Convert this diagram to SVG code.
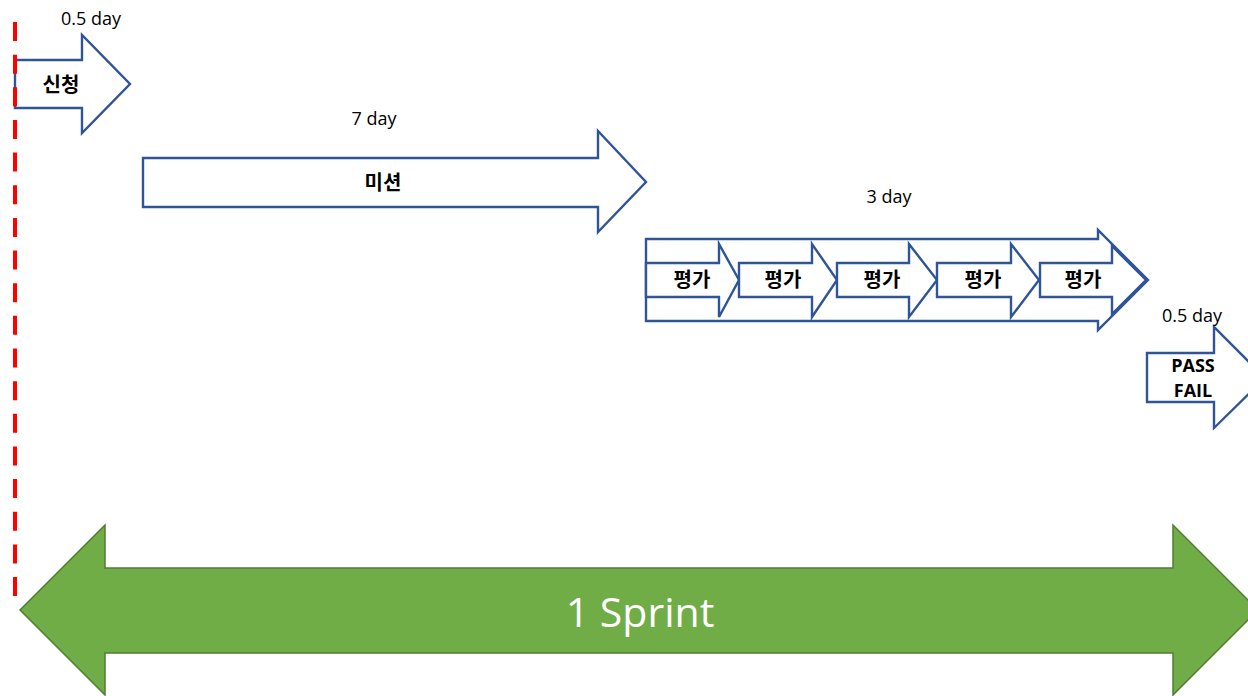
<svg xmlns="http://www.w3.org/2000/svg" width="1248" height="696" viewBox="0 0 1248 696">
<style>
.blk{fill:#ffffff;stroke:#2F5597;stroke-width:2.4;stroke-linejoin:miter}
.kr{font-family:"Noto Sans CJK KR","Noto Sans",sans-serif;font-weight:bold;font-size:20px;fill:#000;text-anchor:middle}
.lb{font-family:"Open Sans","Liberation Sans",sans-serif;font-size:18px;fill:#000;text-anchor:middle}
.bd{font-family:"Open Sans","Liberation Sans",sans-serif;font-weight:bold;font-size:18px;fill:#000;text-anchor:middle}
</style>
<rect x="0" y="0" width="1248" height="696" fill="#ffffff"/>
<g id="sprint">
<polygon points="20,610 105,525 105,568 1173,568 1173,525 1258,610 1173,695 1173,653 105,653 105,695" fill="#70AD47" stroke="#507E32" stroke-width="1.5"/>
<text x="640" y="627" font-family="'Open Sans','Liberation Sans',sans-serif" font-size="41" fill="#ffffff" text-anchor="middle">1 Sprint</text>
</g>
<g id="apply">
<polygon class="blk" points="15,60 82,60 82,35 130,84 82,133 82,108 15,108"/>
<text class="kr" x="61" y="92">신청</text>
<text class="lb" x="91" y="25">0.5 day</text>
</g>
<g id="mission">
<polygon class="blk" points="143,158 598,158 598,131 646,182 598,232 598,207 143,207"/>
<text class="kr" x="383" y="190">미션</text>
<text class="lb" x="374" y="125">7 day</text>
</g>
<g id="evaluation">
<polygon class="blk" points="646,239 1098,239 1098,230 1148,280 1098,330 1098,321 646,321"/>
<text class="lb" x="889" y="203">3 day</text>
</g>
<g id="eval1">
<polygon class="blk" points="646,263 719,263 719,244 739,280 719,317 719,297 646,297"/>
<text class="kr" x="692" y="287">평가</text>
</g>
<g id="eval2">
<polygon class="blk" points="739,263 812,263 812,244 837,280 812,317 812,297 739,297"/>
<text class="kr" x="783" y="287">평가</text>
</g>
<g id="eval3">
<polygon class="blk" points="837,263 909,263 909,244 937,280 909,317 909,297 837,297"/>
<text class="kr" x="882" y="287">평가</text>
</g>
<g id="eval4">
<polygon class="blk" points="937,263 1011,263 1011,244 1039,280 1011,317 1011,297 937,297"/>
<text class="kr" x="983" y="287">평가</text>
</g>
<g id="eval5">
<polygon class="blk" points="1040,263 1112,263 1112,246 1146,280 1112,314 1112,297 1040,297"/>
<text class="kr" x="1083" y="287">평가</text>
</g>
<g id="result">
<polygon class="blk" points="1147,353 1214,353 1214,327 1265,378 1214,428 1214,402 1147,402"/>
<text class="bd" x="1193" y="372">PASS</text>
<text class="bd" x="1193" y="397">FAIL</text>
<text class="lb" x="1192" y="322">0.5 day</text>
</g>
<g id="connectors">
<line x1="15" y1="22" x2="15" y2="596" stroke="#FF0000" stroke-width="4" stroke-dasharray="19 13.65"/>
</g>
</svg>
